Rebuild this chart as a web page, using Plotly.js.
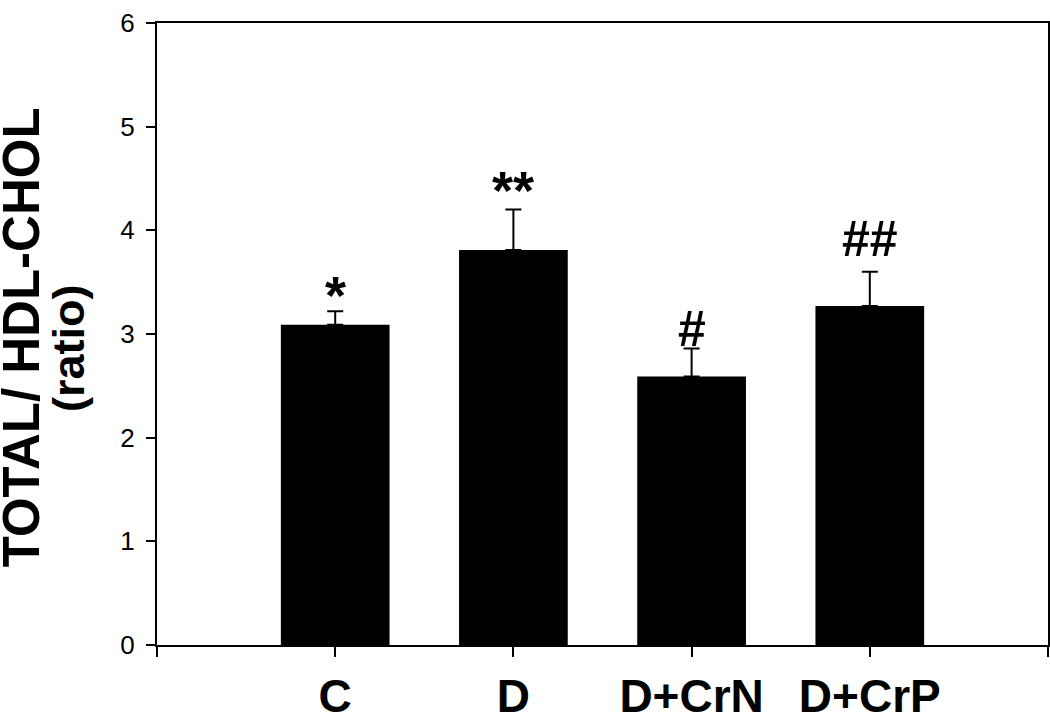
<!DOCTYPE html>
<html>
<head>
<meta charset="utf-8">
<script src="https://cdn.plot.ly/plotly-3.0.1.min.js"></script>
<style>html,body{margin:0;padding:0;background:#fff;}#chart{width:1050px;height:716px;}</style>
</head>
<body>
<div id="chart"></div>
<script>
const categories = ['C', 'D', 'D+CrN', 'D+CrP'];
const ratioValues = [3.09, 3.81, 2.59, 3.27];
const ratioErrors = [0.13, 0.39, 0.27, 0.33];
const significance = ['*', '**', '#', '##'];
const yTickVals = [0, 1, 2, 3, 4, 5, 6];

const FONT = 'Liberation Sans, Arial, sans-serif';
const xPos = categories.map((c, i) => i);

const trace = {
  type: 'bar',
  x: xPos,
  y: ratioValues,
  width: 0.61,
  marker: {color: '#000000', line: {width: 0}},
  error_y: {
    type: 'data',
    symmetric: false,
    array: ratioErrors,
    arrayminus: ratioErrors.map(() => 0),
    color: '#000000',
    thickness: 2,
    width: 8
  },
  hoverinfo: 'none'
};

const shifts = [-16, -12, -10, 3];
const annotations = significance.map((s, i) => ({
  x: xPos[i],
  y: ratioValues[i] + ratioErrors[i],
  xref: 'x', yref: 'y',
  text: '<b>' + s + '</b>',
  showarrow: false,
  yanchor: 'bottom',
  yshift: shifts[i],
  font: {family: FONT, size: s.indexOf('*') >= 0 ? 54 : 50, color: '#000'}
}));

annotations.push({
  xref: 'paper', yref: 'paper', x: -0.152, y: 0.494,
  text: '<b>TOTAL/ HDL-CHOL</b>', textangle: -90, showarrow: false,
  xanchor: 'center', yanchor: 'middle',
  font: {family: FONT, size: 51, color: '#000'}
});
annotations.push({
  xref: 'paper', yref: 'paper', x: -0.099, y: 0.477,
  text: '<b>(ratio)</b>', textangle: -90, showarrow: false,
  xanchor: 'center', yanchor: 'middle',
  font: {family: FONT, size: 45, color: '#000'}
});

const layout = {
  width: 1050, height: 716,
  margin: {l: 157, r: 2, t: 23, b: 71},
  paper_bgcolor: '#fff', plot_bgcolor: '#fff',
  showlegend: false,
  xaxis: {
    type: 'linear',
    range: [-1, 4],
    tickvals: [-1].concat(xPos, [categories.length]),
    ticktext: [''].concat(categories.map(c => '<b>' + c + '</b>'), ['']),
    ticks: 'outside', ticklen: 10, tickwidth: 2, tickcolor: '#000',
    showline: true, linecolor: '#000', linewidth: 2, mirror: true,
    showgrid: false, zeroline: false,
    tickfont: {family: FONT, size: 46, color: '#000'},
    ticklabelstandoff: 0
  },
  yaxis: {
    range: [0, 6],
    tickvals: yTickVals,
    ticks: 'outside', ticklen: 9, tickwidth: 2, tickcolor: '#000',
    showline: true, linecolor: '#000', linewidth: 2, mirror: true,
    showgrid: false, zeroline: false,
    tickfont: {family: FONT, size: 26, color: '#000'},
    ticklabelstandoff: 6
  },
  annotations: annotations
};

Plotly.newPlot('chart', [trace], layout, {staticPlot: true, displayModeBar: false});
</script>
</body>
</html>
